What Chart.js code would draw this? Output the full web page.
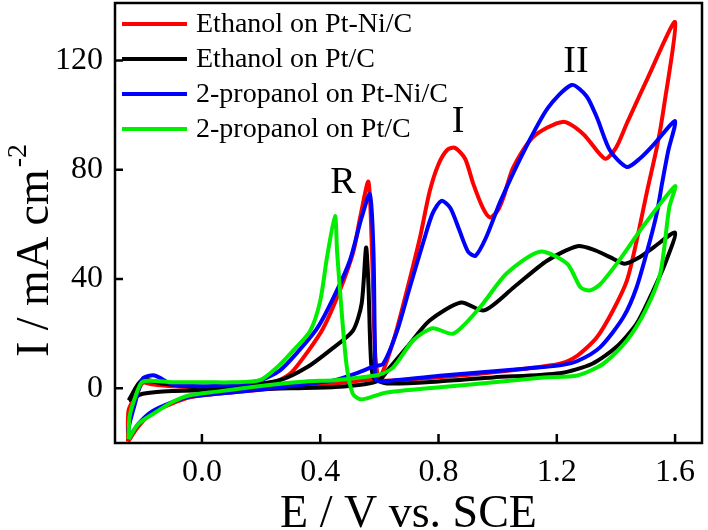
<!DOCTYPE html>
<html>
<head>
<meta charset="utf-8">
<script src="https://cdn.jsdelivr.net/npm/chart.js@4.4.0/dist/chart.umd.min.js"></script>
<style>
  html, body { margin: 0; padding: 0; background: #fff; }
  #wrap { width: 708px; height: 530px; }
</style>
</head>
<body>
<div id="wrap"><canvas id="cvChart" width="708" height="530"></canvas></div>
<script>
const seriesNames = ['Ethanol on Pt-Ni/C', 'Ethanol on Pt/C', '2-propanol on Pt-Ni/C', '2-propanol on Pt/C'];
const seriesColors = ['#ff0000', '#000000', '#0000ff', '#00ee00'];
const xTicks = [0.0, 0.4, 0.8, 1.2, 1.6];
const yTicks = [0, 40, 80, 120];
const peakLabels = ['R', 'I', 'II'];
const peakLabelE = [0.477, 0.866, 1.265];
const peakLabelI = [75, 97.5, 119.5];

// each series is one closed scan: E in V vs. SCE, I in mA cm-2
const ethPtNiE = [-0.25, -0.215, -0.17, -0.1, -0.04, 0.05, 0.15, 0.25, 0.35, 0.45, 0.55, 0.6, 0.625, 0.66, 0.703, 0.737, 0.77, 0.80, 0.83, 0.856, 0.89, 0.917, 0.95, 0.974, 1.0, 1.02, 1.052, 1.12, 1.22, 1.29, 1.363, 1.40, 1.437, 1.505, 1.6,
  1.56, 1.54, 1.505, 1.47, 1.437, 1.39, 1.335, 1.27, 1.21, 1.10, 0.873, 0.646, 0.60, 0.595, 0.585, 0.575, 0.563, 0.535, 0.512, 0.467, 0.41, 0.355, 0.30, 0.25, 0.15, 0.0, -0.1, -0.17, -0.2, -0.22, -0.248, -0.25];
const ethPtNiI = [-19.5, -14, -9, -5.5, -3.3, -2, -1, 0, 1, 1.8, 3, 4, 10, 22, 40, 55, 72, 82, 87.3, 88, 84, 75, 66, 62.5, 65, 70, 80.7, 92, 97.5, 93, 84, 88, 97, 113, 134,
  101.5, 89, 72, 54, 39.4, 28.5, 18.6, 12, 9, 7.3, 4.7, 2.9, 3, 4, 14, 50, 75.6, 62.5, 50, 36, 22, 13, 5.5, 2.5, 1, 0.4, 0.8, 1.5, 2, -2, -8, -19.5];

const ethPtE = [-0.248, -0.2, -0.1, 0.1, 0.3, 0.45, 0.55, 0.6, 0.636, 0.693, 0.77, 0.876, 0.954, 1.055, 1.167, 1.27, 1.33, 1.38, 1.43, 1.48, 1.526, 1.6,
  1.57, 1.526, 1.47, 1.40, 1.32, 1.21, 0.985, 0.8, 0.625, 0.58, 0.57, 0.563, 0.555, 0.54, 0.51, 0.434, 0.355, 0.264, 0.15, 0.0, -0.135, -0.203, -0.248];
const ethPtI = [-4.4, -2, -1, -0.5, 0, 0.5, 1.5, 3, 7.7, 15, 24.8, 31.4, 28.5, 37, 46.7, 52, 50.5, 48, 45.6, 48, 51.5, 57,
  46.7, 35.8, 23.7, 15, 9, 5.5, 4, 2.5, 1.8, 4, 14, 38, 51.5, 31, 21, 14, 7.7, 3, 1.2, 0.4, 1.8, 3, -4.4];

const propPtNiE = [-0.245, -0.215, -0.17, -0.1, -0.04, 0.05, 0.15, 0.25, 0.35, 0.45, 0.535, 0.58, 0.613, 0.66, 0.703, 0.75, 0.78, 0.81, 0.84, 0.87, 0.90, 0.925, 0.96, 1.01, 1.09, 1.17, 1.25, 1.30, 1.336, 1.38, 1.437, 1.48, 1.526, 1.6,
  1.577, 1.556, 1.54, 1.515, 1.47, 1.425, 1.346, 1.27, 1.21, 1.10, 0.815, 0.646, 0.59, 0.585, 0.58, 0.568, 0.54, 0.50, 0.444, 0.39, 0.32, 0.264, 0.2, 0.1, 0.0, -0.1, -0.16, -0.2, -0.225, -0.248, -0.245];
const propPtNiI = [-18, -13, -8.5, -5, -3, -2, -1, 0.2, 1.5, 3, 6, 8, 9, 21, 37, 54, 64, 68.6, 66, 58, 50, 48.5, 55, 68.6, 87, 102.6, 111, 107, 99, 87, 81, 84, 89, 97.8,
  87, 75, 65, 54, 37, 26, 15, 10, 8.4, 7.3, 4.7, 2.9, 3, 14, 50, 71, 62.5, 46.7, 33, 22, 12.8, 6.6, 3, 1.2, 0.8, 1.5, 4.7, 3.6, -5, -14.5, -18];

const propPtE = [-0.248, -0.215, -0.16, -0.1, -0.044, 0.05, 0.15, 0.25, 0.35, 0.45, 0.535, 0.6, 0.647, 0.714, 0.78, 0.85, 0.94, 1.03, 1.143, 1.235, 1.28, 1.31, 1.346, 1.41, 1.49, 1.6,
  1.58, 1.55, 1.5, 1.437, 1.357, 1.27, 1.155, 0.873, 0.625, 0.56, 0.535, 0.51, 0.49, 0.474, 0.457, 0.45, 0.423, 0.40, 0.366, 0.31, 0.254, 0.196, 0.1, 0.027, -0.1, -0.2, -0.225, -0.245, -0.248];
const propPtI = [-18.6, -13, -9, -5, -2.6, -1.2, 0.2, 1.5, 2.5, 3, 4, 5, 7.7, 17.5, 22, 20, 29.6, 42, 50, 45.6, 37, 35.8, 38, 46.7, 59, 74,
  66, 42, 28.5, 17.5, 9, 4.7, 4, 1, -1.5, -3.6, -4, -2, 7.7, 26, 50, 63, 48, 32, 21, 14, 7.7, 3, 2.2, 2.2, 2.2, 2.5, -3, -10.6, -18.6];

const scansE = [ethPtNiE, ethPtE, propPtNiE, propPtE];
const scansI = [ethPtNiI, ethPtI, propPtNiI, propPtI];
const drawOrder = [3, 2, 1, 0];

const serif = '"Liberation Serif", "DejaVu Serif", serif';

const overlay = {
  id: 'overlay',
  afterDraw(chart) {
    const { ctx, chartArea: a, scales: { x, y } } = chart;
    ctx.save();
    ctx.strokeStyle = '#000';
    ctx.fillStyle = '#000';

    // frame and inward ticks
    ctx.lineWidth = 2.5;
    ctx.strokeRect(a.left, a.top, a.right - a.left, a.bottom - a.top);
    ctx.beginPath();
    xTicks.forEach(v => {
      const px = x.getPixelForValue(v);
      ctx.moveTo(px, a.bottom);
      ctx.lineTo(px, a.bottom - 9);
    });
    yTicks.forEach(v => {
      const py = y.getPixelForValue(v);
      ctx.moveTo(a.left, py);
      ctx.lineTo(a.left + 8, py);
    });
    ctx.stroke();

    // legend
    ctx.font = '28px ' + serif;
    ctx.textBaseline = 'middle';
    ctx.textAlign = 'left';
    seriesNames.forEach((name, i) => {
      const ly = a.top + 21 + i * 35;
      ctx.strokeStyle = seriesColors[i];
      ctx.lineWidth = 4;
      ctx.beginPath();
      ctx.moveTo(a.left + 7, ly);
      ctx.lineTo(a.left + 72, ly);
      ctx.stroke();
      ctx.fillText(name, a.left + 81, ly + 1);
    });

    // peak labels
    ctx.font = '38px ' + serif;
    ctx.textAlign = 'center';
    peakLabels.forEach((t, i) => {
      ctx.fillText(t, x.getPixelForValue(peakLabelE[i]), y.getPixelForValue(peakLabelI[i]));
    });

    // axis titles
    ctx.textBaseline = 'alphabetic';
    ctx.font = '46px ' + serif;
    ctx.fillText('E / V vs. SCE', (a.left + a.right) / 2, 527);

    ctx.save();
    ctx.translate(48, 357);
    ctx.rotate(-Math.PI / 2);
    ctx.textAlign = 'left';
    ctx.fillText('I / mA cm', 0, 0);
    const w = ctx.measureText('I / mA cm').width;
    ctx.font = '28px ' + serif;
    ctx.fillText('-2', w + 2, -22);
    ctx.restore();

    ctx.restore();
  }
};

new Chart(document.getElementById('cvChart').getContext('2d'), {
  type: 'scatter',
  data: {
    datasets: seriesNames.map((name, i) => ({
      label: name,
      data: scansE[i].map((e, k) => ({ x: e, y: scansI[i][k] })),
      showLine: true,
      borderColor: seriesColors[i],
      backgroundColor: seriesColors[i],
      borderWidth: 4,
      pointRadius: 0,
      tension: 0.25,
      order: drawOrder[i]
    }))
  },
  options: {
    responsive: false,
    animation: false,
    devicePixelRatio: 1,
    layout: { padding: { top: 3, right: 6, left: 0, bottom: 0 } },
    plugins: { legend: { display: false }, tooltip: { enabled: false } },
    scales: {
      x: {
        type: 'linear',
        min: -0.294,
        max: 1.691,
        afterFit(s) { s.height = 87; s.paddingLeft = 0; s.paddingRight = 0; },
        afterBuildTicks(s) { s.ticks = xTicks.map(v => ({ value: v })); },
        grid: { display: false, drawTicks: false },
        border: { display: false },
        ticks: {
          padding: 10,
          color: '#000',
          font: { family: serif, size: 32 },
          callback: v => v.toFixed(1)
        }
      },
      y: {
        type: 'linear',
        min: -20,
        max: 141,
        afterFit(s) { s.width = 115; s.paddingTop = 0; s.paddingBottom = 0; },
        afterBuildTicks(s) { s.ticks = yTicks.map(v => ({ value: v })); },
        grid: { display: false, drawTicks: false },
        border: { display: false },
        ticks: {
          padding: 12,
          color: '#000',
          font: { family: serif, size: 32 },
          callback: v => String(v)
        }
      }
    }
  },
  plugins: [overlay]
});
</script>
</body>
</html>
